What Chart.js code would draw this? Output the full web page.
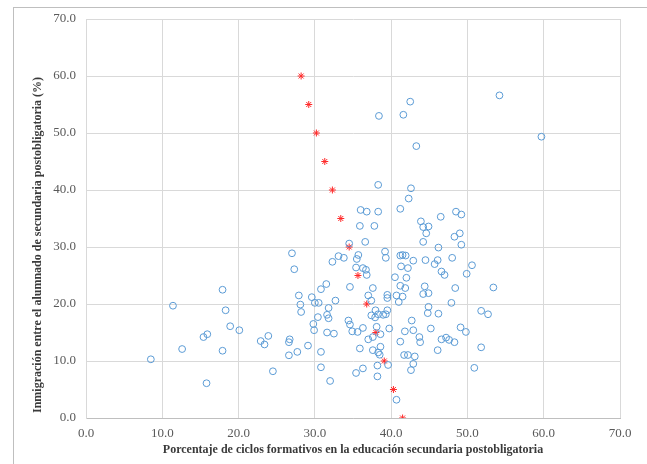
<!DOCTYPE html>
<html lang="es">
<head>
    <meta charset="UTF-8">
    <title>Inmigración y ciclos formativos</title>
    <script src="https://cdn.jsdelivr.net/npm/chart.js"></script>
    <style>
        body {
            margin: 0;
            background: #fff;
        }
        .wrap {
            position: relative;
            width: 647px;
            height: 464px;
            overflow: hidden;
        }
        .frame {
            position: absolute;
            left: 13px;
            top: 7px;
            width: 700px;
            height: 500px;
            border-left: 1px solid #bfbfbf;
            border-top: 1px solid #bfbfbf;
        }
        canvas {
            position: absolute;
            left: 0;
            top: 0;
        }
    </style>
</head>
<body>

<div class="wrap">
    <div class="frame"></div>
    <canvas id="myChart" width="647" height="464"></canvas>
</div>

<script>
    // provincias: % ciclos formativos (x) vs % inmigración (y)
    const blueX = [
        8.5, 11.4, 12.6, 15.4, 15.9, 15.8, 17.9, 18.3, 18.9, 17.9, 20.1, 22.9, 23.4, 23.9, 24.5,
        26.6, 26.7, 26.6, 27.7, 29.1, 29.9, 30.8, 30.8, 32.0, 31.6, 32.5, 34.9, 35.6, 35.9, 35.4,
        36.3, 37.0, 27.0, 27.3, 27.9, 28.1, 28.2, 29.6, 30.0, 30.5, 30.4, 29.8, 30.8, 31.5, 31.8,
        31.6, 31.8, 32.7, 32.3, 33.1, 33.8, 34.6, 34.4, 34.6, 36.3, 35.5, 35.7, 35.4, 36.7, 36.3,
        36.8, 37.0, 36.0, 36.8, 35.9, 36.6, 34.5, 38.4, 41.6, 42.5, 43.3, 38.3, 42.6, 42.3, 41.2,
        38.3, 37.8, 43.9, 44.2, 44.9, 44.6, 46.5, 48.5, 49.2, 49.0, 48.3, 49.2, 44.2, 46.2, 39.2,
        39.3, 41.2, 41.5, 41.9, 42.9, 44.5, 46.1, 48.0, 41.3, 42.2, 45.7, 46.6, 47.0, 49.9, 50.6,
        40.5, 42.0, 41.2, 41.85, 44.4, 44.2, 44.9, 48.4, 37.6, 37.4, 39.5, 39.5, 40.7, 41.5, 41.0,
        47.9, 37.95, 37.4, 37.9, 38.3, 38.95, 39.5, 39.3, 44.9, 44.8, 46.2, 42.7, 45.2, 49.1, 49.8,
        37.6, 39.75, 41.8, 42.9, 43.7, 46.6, 47.2, 47.6, 48.3, 37.6, 38.3, 38.5, 38.2, 38.2, 38.6,
        39.6, 40.7, 41.2, 41.7, 42.2, 43.1, 42.9, 42.6, 43.8, 46.1, 53.4, 51.8, 52.7, 51.8, 50.9,
        54.2, 59.7, 38.1, 38.6
    ];
    const blueY = [
        10.3, 19.7, 12.1, 14.2, 14.7, 6.1, 22.5, 18.9, 16.1, 11.8, 15.4, 13.5, 12.9, 14.4, 8.2,
        13.3, 13.8, 11.0, 11.6, 12.7, 15.4, 11.6, 8.9, 6.5, 15.0, 14.8, 15.2, 15.1, 12.2, 7.9,
        8.7, 13.8, 28.9, 26.1, 21.5, 19.9, 18.6, 21.2, 20.2, 20.2, 17.7, 16.5, 22.6, 23.5, 19.3,
        18.1, 17.5, 20.6, 27.4, 28.4, 28.1, 23.0, 17.1, 16.4, 15.8, 27.9, 28.6, 26.4, 26.0, 26.3,
        25.1, 21.5, 36.5, 36.2, 33.7, 30.9, 30.6, 53.0, 53.2, 55.5, 47.7, 40.9, 40.3, 38.5, 36.7,
        36.2, 33.7, 34.5, 33.5, 33.6, 32.4, 35.3, 36.2, 35.7, 32.4, 31.8, 30.4, 30.9, 29.9, 29.2,
        28.1, 28.5, 28.6, 28.5, 27.6, 27.7, 27.7, 28.1, 26.6, 26.3, 27.0, 25.7, 25.1, 25.3, 26.8,
        24.7, 24.6, 23.2, 22.8, 23.1, 21.75, 21.9, 22.8, 22.8, 20.6, 21.6, 21.05, 21.5, 21.3, 20.35,
        20.2, 18.9, 18.0, 17.65, 18.2, 18.1, 18.9, 18.2, 19.5, 18.4, 18.3, 17.1, 15.7, 15.9, 15.1,
        14.2, 15.7, 15.2, 15.4, 14.2, 13.8, 14.1, 13.7, 13.3, 11.9, 11.5, 11.1, 9.2, 7.3, 12.5,
        9.3, 3.2, 13.4, 11.05, 11.05, 10.8, 9.5, 8.4, 13.3, 11.9, 22.9, 18.8, 18.2, 12.4, 8.8,
        56.6, 49.35, 16.0, 14.7
    ];
    // línea de referencia (marcas rojas)
    const redX = [28.2, 29.2, 30.2, 31.3, 32.3, 33.4, 34.5, 35.65, 36.8, 38.0, 39.1, 40.3, 41.5];
    const redY = [60, 55, 50, 45, 40, 35, 30, 25, 20, 15, 10, 5, 0];

    const xTitle = 'Porcentaje de ciclos formativos en la educación secundaria postobligatoria';
    const yTitle = 'Inmigración entre el alumnado de secundaria postobligatoria (%)';

    const serif = '"Liberation Serif", "Times New Roman", serif';

    const toPoints = (xs, ys) => xs.map((x, i) => ({ x: x, y: ys[i] }));

    // titulos de ejes dibujados a mano para colocarlos como en el original
    const axisTitles = {
        id: 'axisTitles',
        afterDraw(chart) {
            const c = chart.ctx;
            const area = chart.chartArea;
            c.save();
            c.fillStyle = '#3a3a3a';
            c.font = 'bold 12px ' + serif;
            c.textBaseline = 'middle';
            c.textAlign = 'center';
            c.fillText(xTitle, (area.left + area.right) / 2, 450);
            c.translate(38, 413);
            c.rotate(-Math.PI / 2);
            c.textAlign = 'left';
            c.fillText(yTitle, 0, 0);
            c.restore();
        }
    };

    const tickFmt = v => Number(v).toFixed(1);

    const config = {
        type: 'scatter',
        data: {
            datasets: [{
                label: 'Provincias',
                data: toPoints(blueX, blueY),
                pointStyle: 'circle',
                pointRadius: 3.4,
                pointBorderWidth: 1,
                borderColor: '#5b9bd5',
                backgroundColor: 'rgba(0,0,0,0)'
            }, {
                label: 'Referencia',
                data: toPoints(redX, redY),
                pointStyle: 'star',
                pointRadius: 3.5,
                pointBorderWidth: 1,
                borderColor: '#ff2a2a',
                backgroundColor: '#ff2a2a'
            }]
        },
        options: {
            responsive: false,
            animation: false,
            layout: {
                padding: { left: 0, right: 27, top: 19, bottom: 0 }
            },
            scales: {
                x: {
                    min: 0,
                    max: 70,
                    ticks: {
                        stepSize: 10,
                        padding: 8,
                        color: '#595959',
                        font: { family: serif, size: 13 },
                        callback: tickFmt
                    },
                    grid: { color: '#d9d9d9', drawTicks: false },
                    border: { color: '#bfbfbf' },
                    afterFit: s => { s.height = 46; }
                },
                y: {
                    min: 0,
                    max: 70,
                    ticks: {
                        stepSize: 10,
                        padding: 10,
                        color: '#595959',
                        font: { family: serif, size: 13 },
                        callback: tickFmt
                    },
                    grid: { color: '#d9d9d9', drawTicks: false },
                    border: { color: '#d9d9d9' },
                    afterFit: s => { s.width = 86; }
                }
            },
            plugins: {
                legend: { display: false },
                tooltip: { enabled: false }
            }
        },
        plugins: [axisTitles]
    };

    const ctx = document.getElementById('myChart').getContext('2d');
    new Chart(ctx, config);
</script>

</body>
</html>
